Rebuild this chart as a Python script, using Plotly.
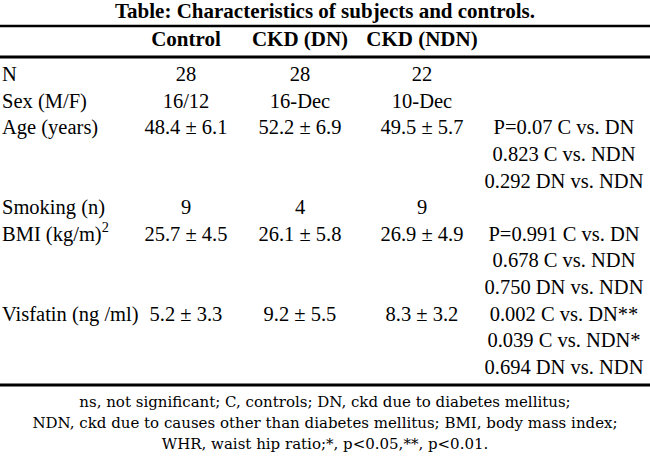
import plotly.graph_objects as go

# table content
title = "Table: Characteristics of subjects and controls."
col_headers = ["Control", "CKD (DN)", "CKD (NDN)"]
row_labels = ["N", "Sex (M/F)", "Age (years)", "Smoking (n)",
              "BMI (kg/m)<sup>2</sup>", "Visfatin (ng /ml)"]
control = ["28", "16/12", "48.4 ± 6.1", "9", "25.7 ± 4.5", "5.2 ± 3.3"]
ckd_dn = ["28", "16-Dec", "52.2 ± 6.9", "4", "26.1 ± 5.8", "9.2 ± 5.5"]
ckd_ndn = ["22", "10-Dec", "49.5 ± 5.7", "9", "26.9 ± 4.9", "8.3 ± 3.2"]
p_values = [
    [],
    [],
    ["P=0.07 C vs. DN", "0.823 C vs. NDN", "0.292 DN vs. NDN"],
    [],
    ["P=0.991 C vs. DN", "0.678 C vs. NDN", "0.750 DN vs. NDN"],
    ["0.002 C vs. DN**", "0.039 C vs. NDN*", "0.694 DN vs. NDN"],
]
footnotes = [
    "ns, not significant; C, controls; DN, ckd due to diabetes mellitus;",
    "NDN, ckd due to causes other than diabetes mellitus; BMI, body mass index;",
    "WHR, waist hip ratio;*, p<0.05,**, p<0.01.",
]

W, H = 650, 461
FONT = "Liberation Serif"
col_x = [186, 300, 422]
p_x = 564
label_x = 2
first_y = 76
pitch = 26.6

# line index of each row (rows with p-values take several lines)
row_line = []
line = 0
for pv in p_values:
    row_line.append(line)
    line += max(1, len(pv))
row_y = [first_y + pitch * i for i in row_line]

fig = go.Figure()

def text_trace(x, y, text, pos, size=20.5, bold=False, family=FONT):
    if bold:
        text = ["<b>%s</b>" % t for t in text]
    fig.add_trace(go.Scatter(
        x=x, y=y, text=text, mode="text", textposition=pos,
        textfont=dict(family=family, size=size, color="black"),
        hoverinfo="skip", showlegend=False, cliponaxis=False))

# title and header
text_trace([W / 2], [13], [title], "middle center", size=21, bold=True)
text_trace(col_x, [41] * 3, col_headers, "middle center", size=21, bold=True)

# row labels and values
text_trace([label_x] * len(row_labels), row_y, row_labels, "middle right")
for cx, vals in zip(col_x, [control, ckd_dn, ckd_ndn]):
    text_trace([cx] * len(vals), row_y, vals, "middle center")

# p-value column
px_y, px_t = [], []
for ry, pv in zip(row_y, p_values):
    for k, t in enumerate(pv):
        px_y.append(ry + pitch * k)
        px_t.append(t)
text_trace([p_x] * len(px_t), px_y, px_t, "middle center")

# footnotes
text_trace([W / 2] * 3, [403, 424, 445], footnotes, "middle center",
           size=15, family="DejaVu Serif")

# horizontal rules
for y0, w in [(26, 2.5), (57, 3), (385, 3)]:
    fig.add_shape(type="line", x0=0, x1=W, y0=y0, y1=y0,
                  line=dict(color="black", width=w))

fig.update_layout(
    width=W, height=H,
    margin=dict(l=0, r=0, t=0, b=0),
    paper_bgcolor="white", plot_bgcolor="white",
    xaxis=dict(range=[0, W], visible=False, fixedrange=True),
    yaxis=dict(range=[H, 0], visible=False, fixedrange=True),
)

# drop the browser's default body margin so the table sits at the corner
fig.write_html("out.html", config={"displayModeBar": False},
               post_script="document.body.style.margin='0px';")
